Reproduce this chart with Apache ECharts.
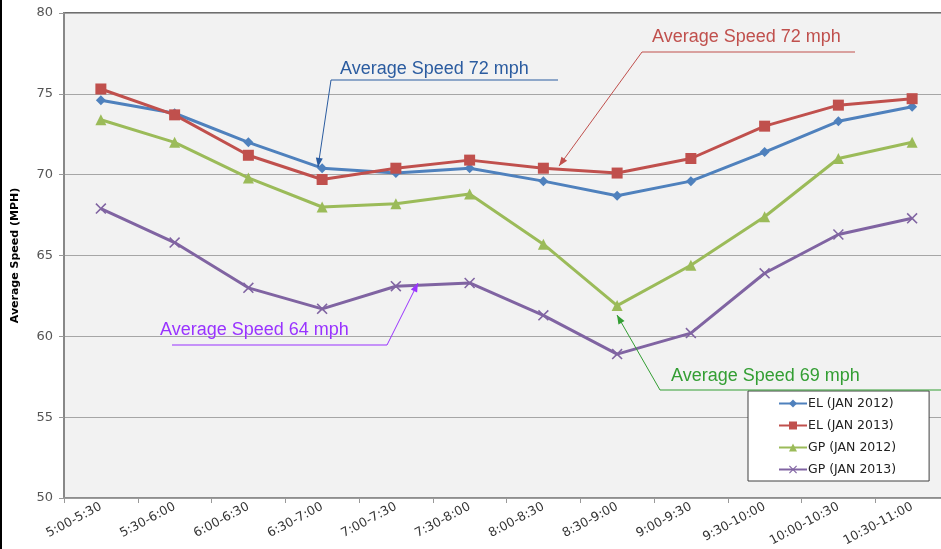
<!DOCTYPE html>
<html>
<head>
<meta charset="utf-8">
<script src="https://cdn.jsdelivr.net/npm/echarts@6/dist/echarts.min.js"></script>
<style>
  html, body { margin: 0; padding: 0; background: #fff; }
  #chart { width: 941px; height: 549px; }
  #edge { position: absolute; left: 0; top: 0; width: 2px; height: 549px; background: #000; }
</style>
</head>
<body>
<div id="chart"></div>
<div id="edge"></div>
<script>
// time slots (x axis)
const timeSlots = ['5:00-5:30', '5:30-6:00', '6:00-6:30', '6:30-7:00', '7:00-7:30', '7:30-8:00',
  '8:00-8:30', '8:30-9:00', '9:00-9:30', '9:30-10:00', '10:00-10:30', '10:30-11:00']

// average speeds, mph
const el2012 = [74.6, 73.8, 72.0, 70.4, 70.1, 70.4, 69.6, 68.7, 69.6, 71.4, 73.3, 74.2]
const el2013 = [75.3, 73.7, 71.2, 69.7, 70.4, 70.9, 70.4, 70.1, 71.0, 73.0, 74.3, 74.7]
const gp2012 = [73.4, 72.0, 69.8, 68.0, 68.2, 68.8, 65.7, 61.9, 64.4, 67.4, 71.0, 72.0]
const gp2013 = [67.9, 65.8, 63.0, 61.7, 63.1, 63.3, 61.3, 58.9, 60.2, 63.9, 66.3, 67.3]

const seriesNames = ['EL (JAN 2012)', 'EL (JAN 2013)', 'GP (JAN 2012)', 'GP (JAN 2013)']

const chart = echarts.init(document.getElementById('chart'))

// x-shaped marker for GP 2013
const crossSymbol = 'path://M0,1L1,0L5,4L9,0L10,1L6,5L10,9L9,10L5,6L1,10L0,9L4,5Z'

// callout: text, underline and arrow
function callout(text, color, tx, ty, pts) {
  const tip = pts[pts.length - 1]
  const prev = pts[pts.length - 2]
  const ang = Math.atan2(tip[1] - prev[1], tip[0] - prev[0])
  const len = 9, w = 3.5
  const bx = tip[0] - len * Math.cos(ang), by = tip[1] - len * Math.sin(ang)
  const head = [
    tip,
    [bx + w * Math.sin(ang), by - w * Math.cos(ang)],
    [bx - w * Math.sin(ang), by + w * Math.cos(ang)],
  ]
  return [
    {
      type: 'text', left: tx, top: ty, z: 100,
      style: { text: text, fill: color, font: '18px "Liberation Sans", Arial, sans-serif' },
    },
    {
      type: 'polyline', z: 100,
      shape: { points: pts },
      style: { stroke: color, lineWidth: 1, fill: null },
    },
    {
      type: 'polygon', z: 100,
      shape: { points: head },
      style: { fill: color },
    },
  ]
}

const labelFont = '"DejaVu Sans", sans-serif'

chart.setOption({
  animation: false,
  grid: {
    left: 64, top: 13, right: -8, bottom: 51,
    outerBoundsMode: 'none',
    show: true, backgroundColor: '#F2F2F2',
    borderColor: '#6e6e6e', borderWidth: 2,
  },
  legend: {
    orient: 'vertical',
    left: 748, top: 391,
    backgroundColor: '#fff',
    borderColor: '#404040', borderWidth: 1,
    padding: [6, 33, 5, 30],
    itemWidth: 28, itemHeight: 10, itemGap: 9,
    textStyle: { fontFamily: labelFont, fontSize: 12.5, color: '#222', padding: [0, 0, 0, -4] },
    data: seriesNames,
  },
  xAxis: {
    type: 'category',
    data: timeSlots,
    boundaryGap: true,
    axisLine: { lineStyle: { color: '#999', width: 1.5 } },
    axisTick: { show: true, interval: 0, length: 5, lineStyle: { color: '#999' } },
    axisLabel: { interval: 0, rotate: 28, fontSize: 12.5, color: '#333', fontFamily: labelFont, margin: 8 },
  },
  yAxis: {
    type: 'value',
    min: 50, max: 80, interval: 5,
    name: 'Average Speed (MPH)',
    nameLocation: 'middle',
    nameGap: 43,
    nameTextStyle: { fontFamily: labelFont, fontSize: 11, fontWeight: 'bold', color: '#000' },
    axisLine: { show: true, lineStyle: { color: '#888', width: 2 } },
    axisTick: { show: true, length: 5, lineStyle: { color: '#999' } },
    axisLabel: { fontSize: 13, color: '#555', fontFamily: labelFont, margin: 11 },
    splitLine: { lineStyle: { color: '#A6A6A6', width: 1 } },
  },
  series: [
    {
      name: seriesNames[0], type: 'line', data: el2012,
      symbol: 'diamond', symbolSize: 10,
      lineStyle: { width: 3, color: '#4F81BD' }, itemStyle: { color: '#4F81BD' },
    },
    {
      name: seriesNames[1], type: 'line', data: el2013,
      symbol: 'rect', symbolSize: 11,
      lineStyle: { width: 3, color: '#C0504D' }, itemStyle: { color: '#C0504D' },
    },
    {
      name: seriesNames[2], type: 'line', data: gp2012,
      symbol: 'triangle', symbolSize: 11,
      lineStyle: { width: 3, color: '#9BBB59' }, itemStyle: { color: '#9BBB59' },
    },
    {
      name: seriesNames[3], type: 'line', data: gp2013,
      symbol: crossSymbol, symbolSize: 11,
      lineStyle: { width: 3, color: '#8064A2' }, itemStyle: { color: '#8064A2' },
    },
  ],
  graphic: [].concat(
    callout('Average Speed 72 mph', '#2B5CA0', 340, 60, [[558, 80], [331, 80], [318, 167]]),
    callout('Average Speed 72 mph', '#C0504D', 652, 28, [[855, 52], [642, 52], [559, 166]]),
    callout('Average Speed 64 mph', '#9933FF', 160, 321, [[172, 345], [387, 345], [418, 283]]),
    callout('Average Speed 69 mph', '#339E33', 671, 367, [[941, 390], [660, 390], [617, 315]])
  ),
})
</script>
</body>
</html>
